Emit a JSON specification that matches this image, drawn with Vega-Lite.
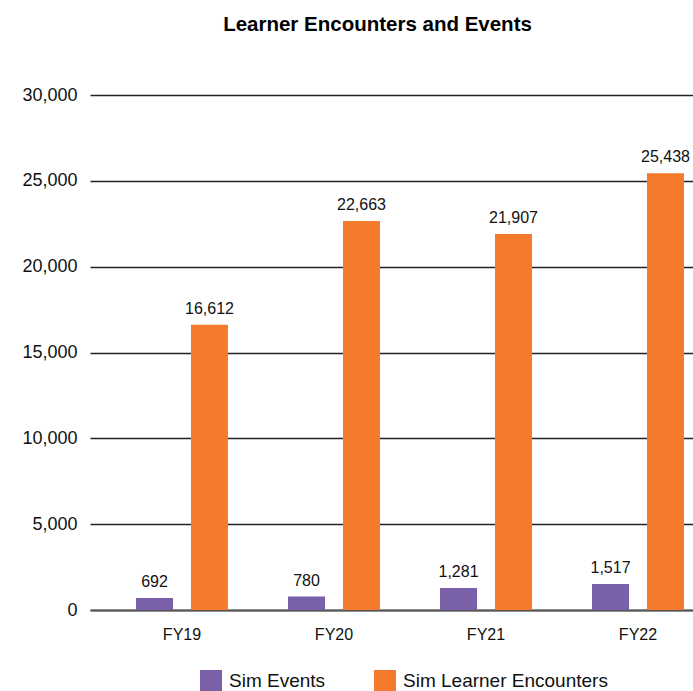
{
  "$schema": "https://vega.github.io/schema/vega-lite/v6.json",
  "autosize": {"type": "none"},
  "padding": {"left": 90, "top": 95, "right": 0, "bottom": 81},
  "width": 603,
  "height": 515,
  "background": "white",
  "title": {
    "text": "Learner Encounters and Events",
    "font": "Liberation Sans",
    "fontSize": 20.5,
    "fontWeight": "bold",
    "color": "#000000",
    "anchor": "middle",
    "frame": "group",
    "dx": -14,
    "offset": 51
  },
  "data": {
    "values": [
      {"year": "FY19", "series": "Sim Events", "value": 692},
      {"year": "FY19", "series": "Sim Learner Encounters", "value": 16612},
      {"year": "FY20", "series": "Sim Events", "value": 780},
      {"year": "FY20", "series": "Sim Learner Encounters", "value": 22663},
      {"year": "FY21", "series": "Sim Events", "value": 1281},
      {"year": "FY21", "series": "Sim Learner Encounters", "value": 21907},
      {"year": "FY22", "series": "Sim Events", "value": 1517},
      {"year": "FY22", "series": "Sim Learner Encounters", "value": 25438}
    ]
  },
  "encoding": {
    "x": {
      "field": "year",
      "type": "nominal",
      "sort": ["FY19", "FY20", "FY21", "FY22"],
      "scale": {"paddingInner": 0.395, "paddingOuter": 0.181, "align": 0.836},
      "axis": {
        "title": null,
        "labelAngle": 0,
        "labelFont": "Liberation Sans",
        "labelFontSize": 16,
        "labelColor": "#111111",
        "labelPadding": 16,
        "ticks": false,
        "domain": true,
        "domainColor": "#555555",
        "domainWidth": 2,
        "grid": false
      }
    },
    "xOffset": {
      "field": "series",
      "type": "nominal",
      "sort": ["Sim Events", "Sim Learner Encounters"],
      "scale": {"paddingInner": 0.327, "paddingOuter": 0}
    },
    "y": {
      "field": "value",
      "type": "quantitative",
      "scale": {"domain": [0, 30000], "nice": false},
      "axis": {
        "title": null,
        "values": [0, 5000, 10000, 15000, 20000, 25000, 30000],
        "format": ",.0f",
        "labelFont": "Liberation Sans",
        "labelFontSize": 18,
        "labelColor": "#111111",
        "labelPadding": 13,
        "ticks": false,
        "domain": false,
        "grid": true,
        "gridColor": "#222222",
        "gridWidth": 1.3
      }
    }
  },
  "layer": [
    {
      "mark": {"type": "bar"},
      "encoding": {
        "color": {
          "field": "series",
          "type": "nominal",
          "scale": {
            "domain": ["Sim Events", "Sim Learner Encounters"],
            "range": ["#7a60a8", "#f47b2b"]
          },
          "legend": {
            "title": null,
            "orient": "none",
            "direction": "horizontal",
            "legendX": 110,
            "legendY": 575,
            "padding": 0,
            "symbolType": "square",
            "symbolSize": 484,
            "symbolStrokeWidth": 0,
            "symbolOpacity": 1,
            "labelFont": "Liberation Sans",
            "labelFontSize": 19,
            "labelColor": "#111111",
            "labelOffset": 7,
            "labelLimit": 400,
            "columnPadding": 48
          }
        }
      }
    },
    {
      "mark": {
        "type": "text",
        "baseline": "alphabetic",
        "dy": -11,
        "font": "Liberation Sans",
        "fontSize": 16,
        "color": "#111111"
      },
      "encoding": {
        "text": {"field": "value", "type": "quantitative", "format": ","}
      }
    }
  ],
  "config": {
    "view": {"stroke": null}
  }
}
